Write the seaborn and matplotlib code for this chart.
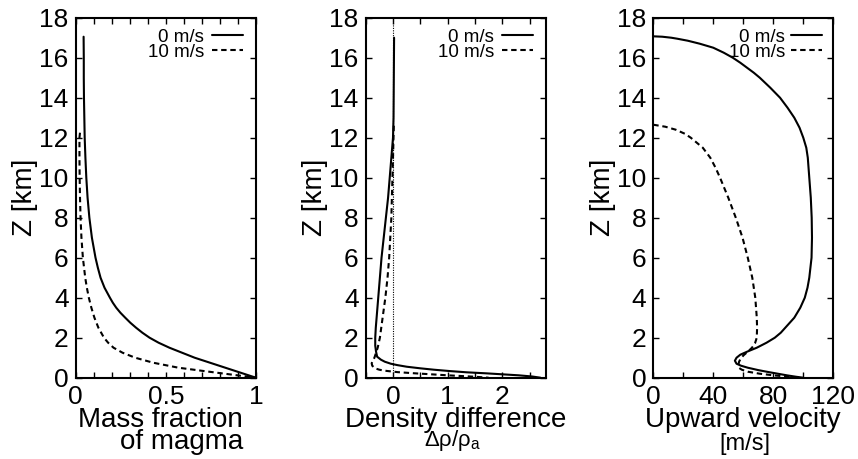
import matplotlib
matplotlib.use("Agg")
import matplotlib.pyplot as plt
import seaborn as sns

# ---- Mass fraction of magma vs height ----
z_mass_0 = [17.05, 16, 15, 14, 13, 12, 11, 10, 9, 8, 7, 6, 5.5, 5, 4.5, 4,
            3.75, 3.5, 3.25, 3, 2.75, 2.5, 2.25, 2, 1.75, 1.5, 1.25, 1.0,
            0.75, 0.5, 0.25, 0]
mass_0 = [0.044, 0.045, 0.045, 0.046, 0.048, 0.050, 0.054, 0.059, 0.066,
          0.076, 0.090, 0.110, 0.123, 0.138, 0.16, 0.19, 0.206, 0.225, 0.248,
          0.275, 0.303, 0.335, 0.37, 0.41, 0.46, 0.52, 0.59, 0.66, 0.745,
          0.83, 0.915, 1.0]
z_mass_10 = [12.25, 12.0, 11, 10, 9, 8, 7, 6, 5, 4.5, 4, 3.5, 3, 2.5, 2,
             1.75, 1.5, 1.25, 1.0, 0.75, 0.5, 0.3, 0.15, 0]
mass_10 = [0.024, 0.021, 0.021, 0.022, 0.024, 0.027, 0.032, 0.040, 0.053,
           0.062, 0.073, 0.087, 0.104, 0.126, 0.157, 0.18, 0.21, 0.26, 0.33,
           0.43, 0.57, 0.74, 0.87, 1.0]

# ---- Density difference vs height ----
z_dens_0 = [17.0, 15, 13, 12, 11, 10, 9, 8, 7, 6, 5, 4, 3, 2.5, 2, 1.6, 1.3,
            1.05, 0.9, 0.8, 0.7, 0.63, 0.55, 0.47, 0.4, 0.33, 0.27, 0.22,
            0.17, 0.12, 0.06, 0]
dens_0 = [0.02, 0.015, 0.01, 0.0, -0.03, -0.06, -0.09, -0.13, -0.17, -0.21,
          -0.24, -0.27, -0.30, -0.315, -0.325, -0.325, -0.31, -0.29, -0.22,
          -0.15, -0.04, 0.08, 0.25, 0.5, 0.75, 1.05, 1.35, 1.7, 2.0, 2.3,
          2.55, 2.7]
z_dens_10 = [12.6, 11, 10, 9, 8, 7, 6, 5, 4, 3, 2, 1.5, 1.0, 0.85, 0.72, 0.6,
             0.47, 0.4, 0.35, 0.28, 0.22, 0.17, 0.12, 0.05, 0]
dens_10 = [0.015, 0.0, -0.01, -0.02, -0.03, -0.05, -0.07, -0.10, -0.14,
           -0.19, -0.24, -0.28, -0.34, -0.37, -0.39, -0.38, -0.33, -0.25,
           -0.15, 0.08, 0.40, 0.7, 1.0, 1.49, 1.75]

# ---- Upward velocity vs height ----
z_vel_0 = [17.07, 17.05, 17.0, 16.95, 16.85, 16.7, 16.5, 16.25, 16, 15.75,
           15.5, 15.25, 15, 14.5, 14, 13.5, 13, 12.5, 12, 11.5, 11, 10, 9, 8,
           7, 6, 5, 4.5, 4, 3.5, 3, 2.5, 2.25, 2, 1.75, 1.5, 1.3, 1.15, 1.0,
           0.85, 0.7, 0.6, 0.5, 0.38, 0.28, 0.2, 0.12, 0.05, 0]
vel_0 = [0, 6, 12, 16, 23, 31, 40, 47, 53, 58, 62.5, 67, 71, 78, 84.5, 89.5,
         94, 97.5, 100, 102, 103, 104, 105, 105.6, 105.8, 105.5, 104, 102.8,
         101, 98, 94, 88, 85, 81, 75.5, 69, 62.5, 58, 55.5, 54.4, 55.5, 58.5,
         63, 70, 77, 83, 89, 95, 100]
z_vel_10 = [12.65, 12.6, 12.55, 12.4, 12.2, 12, 11.5, 11, 10.5, 10, 9, 8, 7,
            6, 5, 4, 3, 2.5, 2, 1.72, 1.5, 1.3, 1.13, 0.95, 0.8, 0.63, 0.5,
            0.4, 0.3, 0.2, 0.12, 0.05, 0]
vel_10 = [0, 4, 8, 15, 21, 25, 33, 38, 41.5, 44.5, 50, 55, 59.5, 63, 66, 68,
          69, 69.2, 69, 67.8, 65.8, 63, 60.3, 58.2, 57.2, 56.7, 57, 59, 63,
          71, 80, 90, 97]

# ---- Axis ticks ----
z_ticks = list(range(0, 19, 2))
mass_ticks = [0.0, 0.1, 0.2, 0.3, 0.4, 0.5, 0.6, 0.7, 0.8, 0.9, 1.0]
mass_labels = ["0", "", "", "", "", "0.5", "", "", "", "", "1"]
dens_ticks = [-0.5, 0.0, 0.5, 1.0, 1.5, 2.0, 2.5]
dens_labels = ["", "0", "", "1", "", "2", ""]
vel_ticks = [0, 20, 40, 60, 80, 100, 120]
vel_labels = ["0", "", "40", "", "80", "", "120"]

series_labels = ["0 m/s", "10 m/s"]

sns.set_style("ticks", {"xtick.direction": "in", "ytick.direction": "in"})
plt.rcParams["font.family"] = ["Liberation Sans", "DejaVu Sans"]
plt.rcParams["mathtext.fontset"] = "custom"
plt.rcParams["mathtext.rm"] = "Liberation Sans"
plt.rcParams["mathtext.it"] = "Liberation Sans"
plt.rcParams["text.color"] = "black"
plt.rcParams["axes.labelcolor"] = "black"

TICK_FS = 19
LABEL_FS = 20
fig = plt.figure(figsize=(8.58, 4.59), dpi=100)
positions = [
    [0.0882, 0.1771, 0.2101, 0.7843],
    [0.4262, 0.1771, 0.2101, 0.7843],
    [0.7614, 0.1771, 0.2098, 0.7843],
]
axes = [fig.add_axes(p) for p in positions]

dash = (0, (2.6, 1.8))
panels = [
    (mass_0, z_mass_0, mass_10, z_mass_10, (0, 1), mass_ticks, mass_labels),
    (dens_0, z_dens_0, dens_10, z_dens_10, (-0.5, 2.8), dens_ticks, dens_labels),
    (vel_0, z_vel_0, vel_10, z_vel_10, (0, 120), vel_ticks, vel_labels),
]

for ax, (x0, y0, x1, y1, xlim, xt, xl) in zip(axes, panels):
    sns.lineplot(x=x0, y=y0, sort=False, estimator=None, ax=ax,
                 color="black", linewidth=1.5, label=series_labels[0])
    sns.lineplot(x=x1, y=y1, sort=False, estimator=None, ax=ax,
                 color="black", linewidth=1.5, linestyle=dash,
                 label=series_labels[1])
    ax.set_xlim(*xlim)
    ax.set_ylim(0, 18)
    ax.set_xticks(xt, labels=xl)
    ax.set_yticks(z_ticks, labels=[str(t) for t in z_ticks])
    ax.tick_params(axis="both", which="major", direction="in", length=4,
                   width=1.0, top=True, right=True, labelsize=TICK_FS, pad=5,
                   color="black", labelcolor="black")
    for s in ax.spines.values():
        s.set_linewidth(1.5)
        s.set_color("black")
    ax.set_ylabel("Z [km]", fontsize=LABEL_FS, labelpad=1)

# zero reference for the density panel
axes[1].axvline(0, color="black", linewidth=0.8, linestyle=(0, (1, 1.2)),
                zorder=1)

axes[0].set_xlabel("Mass fraction\nof magma", fontsize=LABEL_FS,
                   multialignment="right", linespacing=0.8, labelpad=-1.5)
axes[0].xaxis.label.set_x(0.47)
axes[1].set_xlabel("Density difference", fontsize=LABEL_FS, labelpad=-1.5)
axes[1].text(0.48, -0.19, r"$\mathregular{\Delta\rho/\rho_a}$",
             transform=axes[1].transAxes, ha="center", va="baseline",
             fontsize=16)
axes[2].set_xlabel("Upward velocity", fontsize=LABEL_FS, labelpad=-1.5)
axes[2].text(0.51, -0.202, "[m/s]", transform=axes[2].transAxes,
             ha="center", va="baseline", fontsize=17)

for ax, pad, anchor_x in zip(axes, [0.41, 0.41, 0.3], [0.928, 0.928, 0.936]):
    ax.legend(loc="upper right", bbox_to_anchor=(anchor_x, 0.97),
              frameon=False, markerfirst=False, fontsize=13.5,
              handlelength=1.65, handletextpad=pad, labelspacing=-0.1,
              borderpad=0, borderaxespad=0)

fig.savefig("out.png", dpi=100)
